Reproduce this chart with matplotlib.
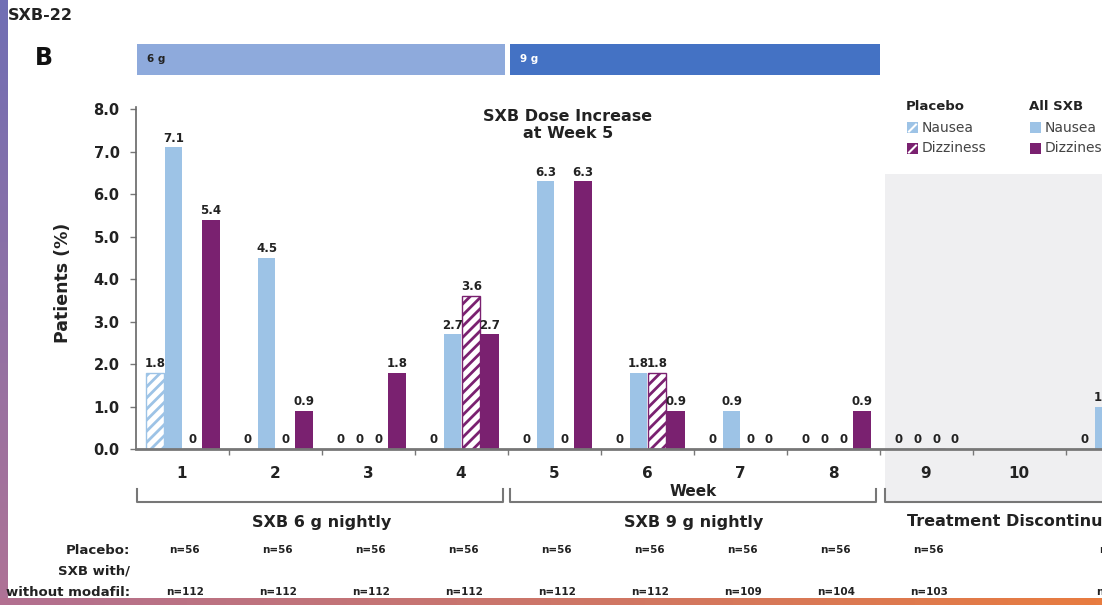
import numpy as np
import matplotlib
matplotlib.use('Agg')
import matplotlib.pyplot as plt
import matplotlib.transforms as mtransforms
from matplotlib.patches import Rectangle
from matplotlib.lines import Line2D

plt.rcParams['font.family'] = ['DejaVu Sans']
plt.rcParams['hatch.linewidth'] = 2.0

# data (% of patients per week)
weeks = [1, 2, 3, 4, 5, 6, 7, 8, 9, 10, 11]
placebo_nausea = [1.8, 0, 0, 0, 0, 0, 0, 0, 0, np.nan, 0]
sxb_nausea = [7.1, 4.5, 0, 2.7, 6.3, 1.8, 0.9, 0, 0, np.nan, 1.0]
placebo_dizzy = [0, 0, 0, 3.6, 0, 1.8, 0, 0, 0, np.nan, np.nan]
sxb_dizzy = [5.4, 0.9, 1.8, 2.7, 6.3, 0.9, 0, 0.9, 0, np.nan, np.nan]
n_placebo = ['n=56'] * 9 + ['', 'n=56']
n_sxb = ['n=112'] * 6 + ['n=109', 'n=104', 'n=103', '', 'n=103']
phases = ['SXB 6 g nightly', 'SXB 9 g nightly', 'Treatment Discontinuation']

blue = '#9dc3e6'
purple = '#7a2170'
ink = '#222'
W, H = 1102, 605


def fy(py):
    return 1 - py / H


fig = plt.figure(figsize=(W / 100, H / 100), dpi=100)
ax = fig.add_axes([135.5 / W, fy(449), 1116 / W, 342 / H])
ax.patch.set_visible(False)
x = np.array(weeks, float)

series = [(placebo_nausea, blue, True), (sxb_nausea, blue, False),
          (placebo_dizzy, purple, True), (sxb_dizzy, purple, False)]
offsets = [-0.29, -0.09, 0.11, 0.31]
for (vals, col, hatched), off in zip(series, offsets):
    v = np.array(vals, float)
    m = ~np.isnan(v)
    if hatched:
        bars = ax.bar(x[m] + off, v[m], 0.19, facecolor='white', edgecolor=col,
                      hatch='///', linewidth=1, zorder=2)
    else:
        bars = ax.bar(x[m] + off, v[m], 0.19, color=col, zorder=2)
    for b, val in zip(bars, v[m]):
        lbl = '0' if val == 0 else f'{val:.1f}'
        ax.annotate(lbl, (b.get_x() + b.get_width() / 2, val), xytext=(0, 2),
                    textcoords='offset points', ha='center', va='bottom',
                    fontsize=8.5, fontweight='bold', color=ink)

# shaded discontinuation period
ax.axvspan(8.56, 12.5, ymin=-53 / 342, ymax=(449 - 174) / 342, color='#efeff1',
           zorder=0, clip_on=False, lw=0)

ax.set_xlim(0.5, 12.5)
ax.set_ylim(0, 8.05)
for s in ['top', 'right']:
    ax.spines[s].set_visible(False)
ax.spines['left'].set_color('#666')
ax.spines['left'].set_linewidth(1.2)
ax.spines['bottom'].set_color('#777')
ax.spines['bottom'].set_linewidth(2)

ax.set_yticks(np.arange(0, 9))
ax.set_yticklabels([f'{v:.1f}' for v in range(9)], fontweight='bold', fontsize=10.5, color=ink)
ax.tick_params(axis='y', length=4.5, width=1, color='#777', pad=7)
ax.set_xticks(weeks)
ax.set_xticklabels([str(w) for w in weeks], fontweight='bold', fontsize=11, color=ink)
ax.set_xticks(np.arange(1.5, 12, 1), minor=True)
ax.tick_params(axis='x', which='major', length=0, pad=12.5)
ax.tick_params(axis='x', which='minor', length=4, width=1, color='#777')

ax.set_ylabel('Patients (%)', fontsize=12.5, fontweight='bold', color=ink)
ax.yaxis.set_label_coords(-(135.5 - 72) / 1116, 0.485)

ax.text(5.15, (449 - 125) / 42.48, 'SXB Dose Increase\nat Week 5', ha='center', va='center',
        fontsize=11.5, fontweight='bold', color=ink, linespacing=1.2)

trans = mtransforms.blended_transform_factory(ax.transData, fig.transFigure)

# dose bars on top
fig.add_artist(Rectangle((0.516, fy(75)), 4.473 - 0.516, 31 / H, transform=trans,
                         facecolor='#8eaadc', edgecolor='none'))
fig.add_artist(Rectangle((4.527, fy(75)), 8.506 - 4.527, 31 / H, transform=trans,
                         facecolor='#4472c4', edgecolor='none'))
fig.text(0.62, fy(59.5), '6 g', transform=trans, fontsize=7.5, fontweight='bold',
         color=ink, va='center')
fig.text(4.63, fy(59.5), '9 g', transform=trans, fontsize=7.5, fontweight='bold',
         color='white', va='center')

# phase brackets
for x0, x1 in [(0.516, 4.45), (4.53, 8.46), (8.56, 13.0)]:
    fig.add_artist(Line2D([x0, x0, x1, x1], [fy(489), fy(502), fy(502), fy(489)],
                          transform=trans, color='#777', lw=1.5))
for xc, name in zip([2.5, 6.5, 10.1], phases):
    fig.text(xc, fy(522), name, transform=trans, ha='center', va='center',
             fontsize=11.5, fontweight='bold', color=ink)
fig.text(6.5, fy(492), 'Week', transform=trans, ha='center', va='center',
         fontsize=11, fontweight='bold', color=ink)

# n rows
for w, a, b in zip(weeks, n_placebo, n_sxb):
    fig.text(w + 0.03, fy(550), a, transform=trans, ha='center', va='center',
             fontsize=7.5, fontweight='bold', color=ink)
    fig.text(w + 0.03, fy(592), b, transform=trans, ha='center', va='center',
             fontsize=7.5, fontweight='bold', color=ink)
for py, lbl in [(550, 'Placebo:'), (571, 'SXB with/'), (592, 'without modafil:')]:
    fig.text(130 / W, fy(py), lbl, ha='right', va='center', fontsize=9.5,
             fontweight='bold', color=ink)

# legend
for lx, head, hatched in [(906, 'Placebo', True), (1029, 'All SXB', False)]:
    fig.text(lx / W, fy(107), head, ha='left', va='center', fontsize=9.5,
             fontweight='bold', color=ink)
    for py, col, name in [(127.5, blue, 'Nausea'), (148.5, purple, 'Dizziness')]:
        fig.add_artist(Rectangle(((lx + 1) / W, fy(py + 5.5)), 11 / W, 11 / H,
                                 facecolor=col, edgecolor='none'))
        if hatched:
            fig.add_artist(Line2D([(lx + 3) / W, (lx + 10) / W], [fy(py + 4), fy(py - 3)],
                                  color='white', lw=1.5))
        fig.text((lx + 16) / W, fy(py), name, ha='left', va='center', fontsize=10,
                 color='#444')

fig.text(8 / W, fy(15), 'SXB-22', ha='left', va='center', fontsize=11.5, fontweight='bold', color=ink)
fig.text(35 / W, fy(58), 'B', ha='left', va='center', fontsize=17, fontweight='bold', color='#111')

# frame strips of the source slide
left = fig.add_axes([0, 0, 7.5 / W, 1])
g = np.linspace(0, 1, 100)[:, None, None]
left.imshow((1 - g) * np.array([112, 110, 180]) / 255 + g * np.array([175, 115, 150]) / 255,
            aspect='auto')
left.axis('off')
bottom = fig.add_axes([0, 0, 1, 7 / H])
g = np.linspace(0, 1, 200)[None, :, None]
bottom.imshow((1 - g) * np.array([178, 112, 145]) / 255 + g * np.array([232, 124, 64]) / 255,
              aspect='auto')
bottom.axis('off')

fig.savefig('out.png', dpi=100)
